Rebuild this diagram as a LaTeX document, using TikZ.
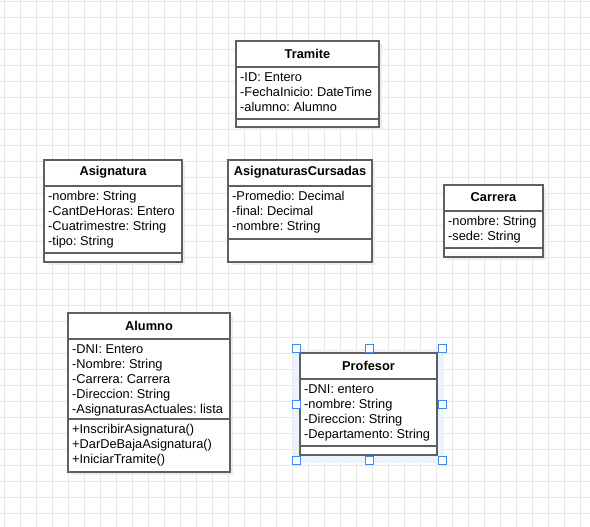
\documentclass[tikz,border=0pt]{standalone}
\usepackage{fontspec}
\setmainfont{Liberation Sans}
\usepackage{tikz}
\usetikzlibrary{positioning}
\usetikzlibrary{shadows}
\frenchspacing

\definecolor{gridgrey}{RGB}{232,232,232}
\definecolor{boxgrey}{RGB}{95,95,95}
\definecolor{selblue}{RGB}{66,135,235}

\begin{document}
\begin{tikzpicture}
	[x=1pt, y=-1pt,
	font=\fontsize{12.8}{15}\selectfont,
	classstyle/.style={rectangle, draw=boxgrey, line width=1.2pt, fill=white, anchor=north west, inner sep=0pt, outer sep=0pt, drop shadow={shadow xshift=3pt, shadow yshift=-3pt, fill=black!7, opacity=1}},
	selclassstyle/.style={rectangle, draw=boxgrey, line width=1.2pt, fill=white, anchor=north west, inner sep=0pt, outer sep=0pt},
	namestyle/.style={font=\fontsize{12.8}{15}\selectfont\bfseries, inner sep=0pt},
	membersstyle/.style={align=left, anchor=north west, inner sep=0pt},
	dividerstyle/.style={draw=boxgrey, line width=1.2pt},
	gridstyle/.style={draw=gridgrey, line width=0.9pt},
	handlestyle/.style={rectangle, draw=selblue, fill=white, line width=0.9pt, minimum size=8pt, inner sep=0pt}
	]
	
	%Set params
	\def\nameh{26}
	\def\memtop{31}
	\def\indent{4}
	
	\useasboundingbox (0,0) rectangle (590,527);
	\fill[white] (0,0) rectangle (590,527);
	
	%Grid
	\foreach \gx in {4,20,...,588} \draw[gridstyle] (\gx,0) -- (\gx,527);
	\foreach \gy in {1,17,...,526} \draw[gridstyle] (0,\gy) -- (590,\gy);
	
	%Tramite
	\node(Tramite)[classstyle, minimum width=143, minimum height=86] at (236,41) {};
	\node(TramiteName)[namestyle] at ([yshift=-12.5pt]Tramite.north) {Tramite};
	\draw[dividerstyle] ([yshift=-\nameh pt]Tramite.north west) -- ([yshift=-\nameh pt]Tramite.north east);
	\node(TramiteAttr)[membersstyle] at ([xshift=\indent pt, yshift=-\memtop pt]Tramite.north west) {-ID: Entero\\-FechaInicio: DateTime\\-alumno: Alumno};
	\draw[dividerstyle] ([yshift=-78pt]Tramite.north west) -- ([yshift=-78pt]Tramite.north east);
	
	%Asignatura
	\node(Asignatura)[classstyle, minimum width=138, minimum height=102] at (44,160) {};
	\node(AsignaturaName)[namestyle] at ([yshift=-12.5pt]Asignatura.north) {Asignatura};
	\draw[dividerstyle] ([yshift=-\nameh pt]Asignatura.north west) -- ([yshift=-\nameh pt]Asignatura.north east);
	\node(AsignaturaAttr)[membersstyle] at ([xshift=\indent pt, yshift=-\memtop pt]Asignatura.north west) {-nombre: String\\-CantDeHoras: Entero\\-Cuatrimestre: String\\-tipo: String};
	\draw[dividerstyle] ([yshift=-93pt]Asignatura.north west) -- ([yshift=-93pt]Asignatura.north east);
	
	%AsignaturasCursadas
	\node(Cursadas)[classstyle, minimum width=144, minimum height=102] at (228,160) {};
	\node(CursadasName)[namestyle] at ([yshift=-12.5pt]Cursadas.north) {AsignaturasCursadas};
	\draw[dividerstyle] ([yshift=-\nameh pt]Cursadas.north west) -- ([yshift=-\nameh pt]Cursadas.north east);
	\node(CursadasAttr)[membersstyle] at ([xshift=\indent pt, yshift=-\memtop pt]Cursadas.north west) {-Promedio: Decimal\\-final: Decimal\\-nombre: String};
	\draw[dividerstyle] ([yshift=-79pt]Cursadas.north west) -- ([yshift=-79pt]Cursadas.north east);
	
	%Carrera
	\node(Carrera)[classstyle, minimum width=99, minimum height=72] at (444,185) {};
	\node(CarreraName)[namestyle] at ([yshift=-12.5pt]Carrera.north) {Carrera};
	\draw[dividerstyle] ([yshift=-\nameh pt]Carrera.north west) -- ([yshift=-\nameh pt]Carrera.north east);
	\node(CarreraAttr)[membersstyle] at ([xshift=\indent pt, yshift=-\memtop pt]Carrera.north west) {-nombre: String\\-sede: String};
	\draw[dividerstyle] ([yshift=-63pt]Carrera.north west) -- ([yshift=-63pt]Carrera.north east);
	
	%Alumno
	\node(Alumno)[classstyle, minimum width=162, minimum height=159] at (68,313) {};
	\node(AlumnoName)[namestyle] at ([yshift=-12.5pt]Alumno.north) {Alumno};
	\draw[dividerstyle] ([yshift=-\nameh pt]Alumno.north west) -- ([yshift=-\nameh pt]Alumno.north east);
	\node(AlumnoAttr)[membersstyle] at ([xshift=\indent pt, yshift=-\memtop pt]Alumno.north west) {-DNI: Entero\\-Nombre: String\\-Carrera: Carrera\\-Direccion: String\\-AsignaturasActuales: lista};
	\draw[dividerstyle] ([yshift=-106pt]Alumno.north west) -- ([yshift=-106pt]Alumno.north east);
	\node(AlumnoOps)[membersstyle] at ([xshift=\indent pt, yshift=-111pt]Alumno.north west) {+InscribirAsignatura()\\+DarDeBajaAsignatura()\\+IniciarTramite()};
	
	%Profesor (selected)
	\fill[selblue!10] (293,349) rectangle (444,463);
	\node(Profesor)[selclassstyle, minimum width=137, minimum height=102] at (300,353) {};
	\node(ProfesorName)[namestyle] at ([yshift=-12.5pt]Profesor.north) {Profesor};
	\draw[dividerstyle] ([yshift=-\nameh pt]Profesor.north west) -- ([yshift=-\nameh pt]Profesor.north east);
	\node(ProfesorAttr)[membersstyle] at ([xshift=\indent pt, yshift=-\memtop pt]Profesor.north west) {-DNI: entero\\-nombre: String\\-Direccion: String\\-Departamento: String};
	\draw[dividerstyle] ([yshift=-93pt]Profesor.north west) -- ([yshift=-93pt]Profesor.north east);
	
	%Selection handles
	\foreach \hx/\hy/\hname in {296/348/hNW, 369/348/hN, 442/348/hNE, 296/404/hW, 442/404/hE, 296/460/hSW, 369/460/hS, 442/460/hSE}
		\node(\hname)[handlestyle] at (\hx,\hy) {};
	
\end{tikzpicture}
\end{document}
